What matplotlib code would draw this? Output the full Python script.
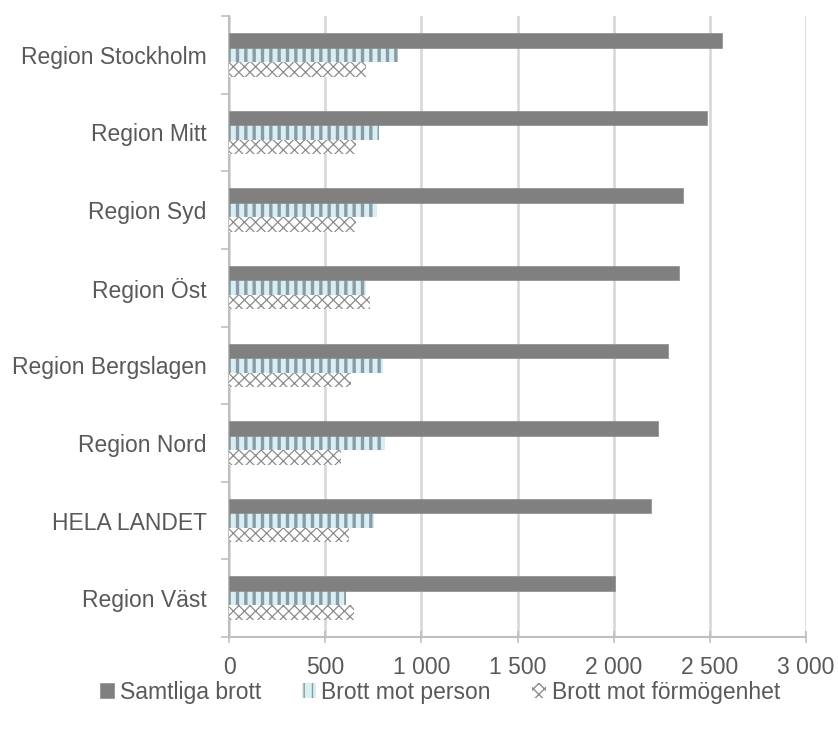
import matplotlib
matplotlib.use("Agg")
import matplotlib.pyplot as plt
import numpy as np
from matplotlib.ticker import FuncFormatter, FixedLocator

categories = ["Region Stockholm", "Region Mitt", "Region Syd", "Region Öst",
              "Region Bergslagen", "Region Nord", "HELA LANDET", "Region Väst"]
samtliga = [2565, 2483, 2358, 2342, 2283, 2229, 2194, 2005]
person = [879, 778, 767, 714, 800, 812, 752, 609]
formogenhet = [714, 660, 660, 734, 634, 582, 625, 648]
series_names = ["Samtliga brott", "Brott mot person", "Brott mot förmögenhet"]
xticks = [0, 500, 1000, 1500, 2000, 2500, 3000]

plt.rcParams['font.family'] = ['Liberation Sans', 'DejaVu Sans']
txt = '#595959'

fig = plt.figure(figsize=(8.38, 7.31), dpi=100)
ax = fig.add_axes([229/838, 1-637/731, (806-229)/838, (637-16)/731])

y = np.arange(len(categories))
h = 0.187


def set_hlw(container, lw):
    for p in container:
        if hasattr(p, 'set_hatch_linewidth'):
            p.set_hatch_linewidth(lw)
        else:
            p._hatch_linewidth = lw


b2 = ax.barh(y, person, height=h, color='#d8eff1', edgecolor='#8a9aa6',
             hatch='||', linewidth=0, label=series_names[1], zorder=3)
set_hlw(b2, 2.4)
b3 = ax.barh(y + h, formogenhet, height=h, color='white', edgecolor='#8c8c8c',
             hatch='xxx', linewidth=0, label=series_names[2], zorder=3)
set_hlw(b3, 0.9)
b1 = ax.barh(y - h, samtliga, height=h, color='#808080', edgecolor='#8c8c8c',
             linewidth=0.5, label=series_names[0], zorder=3)

ax.set_xlim(0, 3000)
ax.set_ylim(len(categories) - 0.5, -0.5)
ax.set_xticks(xticks)
ax.xaxis.set_major_formatter(FuncFormatter(lambda v, p: f"{int(v):,}".replace(",", " ")))
ax.grid(axis='x', color='#d9d9d9', linewidth=2, zorder=0)

ax.yaxis.set_major_locator(FixedLocator(np.arange(-0.5, len(categories), 1.0)))
ax.yaxis.set_major_formatter(FuncFormatter(lambda v, p: ""))
ax.yaxis.set_minor_locator(FixedLocator(y))
ax.set_yticklabels(categories, minor=True)
ax.tick_params(axis='y', which='minor', length=0, pad=16, labelsize=16.5, labelcolor=txt)
ax.tick_params(axis='y', which='major', length=6, color='#bfbfbf', width=1.2)
ax.tick_params(axis='x', which='major', direction='inout', length=8, color='#bfbfbf',
               width=1.2, pad=10, labelsize=16.5, labelcolor=txt)

for s in ['top', 'right']:
    ax.spines[s].set_visible(False)
for s in ['left', 'bottom']:
    ax.spines[s].set_color('#bfbfbf')
    ax.spines[s].set_linewidth(1.5)

leg = fig.legend(handles=[b1, b2, b3], labels=series_names, loc='center',
                 bbox_to_anchor=(440/838, 1-692/731), ncol=3, frameon=False,
                 handlelength=0.6, handleheight=0.6, handletextpad=0.25,
                 columnspacing=1.8, fontsize=16.5, labelcolor=txt)

fig.savefig("out.png", dpi=100)
